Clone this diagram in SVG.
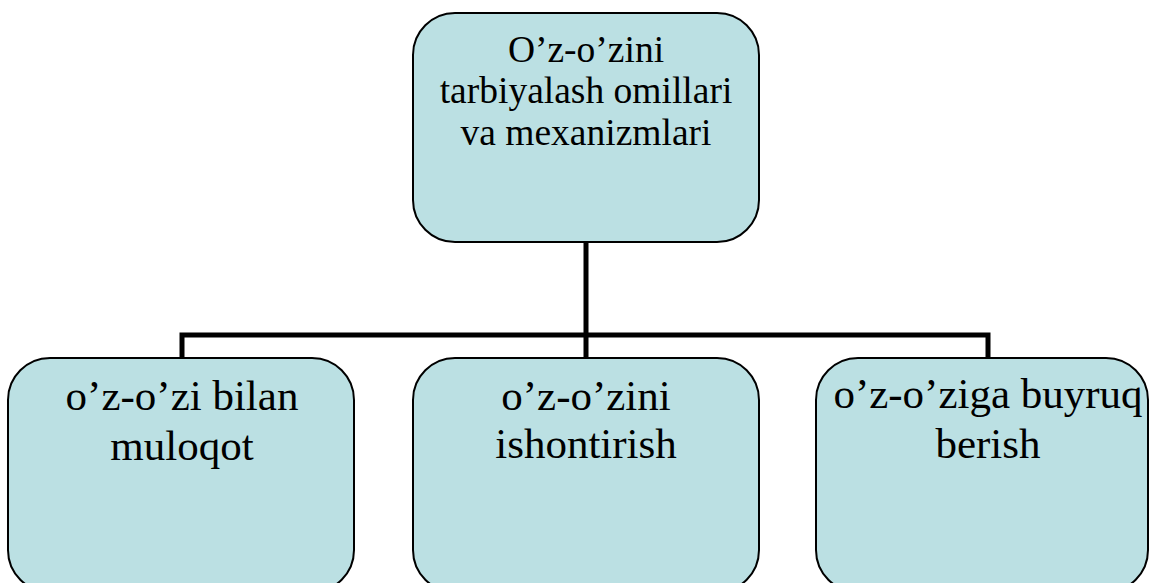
<svg xmlns="http://www.w3.org/2000/svg" width="1151" height="583" viewBox="0 0 1151 583">
<style>
.box{fill:#BBE0E3;stroke:#000;stroke-width:2}
.t{font-family:"Liberation Serif","Times New Roman",serif;fill:#000;text-anchor:middle}
.top{font-size:37.5px}
.bot{font-size:43px}
.conn{fill:none;stroke:#000;stroke-width:5}
</style>
<rect width="1151" height="583" fill="#fff"/>
<g id="connectors">
<path class="conn" d="M586,242 V335 M182,358 V335 H988 V358 M586,335 V358"/>
</g>
<g id="root">
<rect class="box" x="413" y="13" width="346" height="229" rx="42"/>
<text class="t top" x="586" y="62">O’z-o’zini</text>
<text class="t top" x="586" y="103">tarbiyalash omillari</text>
<text class="t top" x="586" y="145">va mexanizmlari</text>
</g>
<g id="n1">
<rect class="box" x="8" y="358" width="346" height="234" rx="42"/>
<text class="t bot" x="182" y="410">o’z-o’zi bilan</text>
<text class="t bot" x="182" y="460">muloqot</text>
</g>
<g id="n2">
<rect class="box" x="413" y="358" width="346" height="234" rx="42"/>
<text class="t bot" x="586" y="410">o’z-o’zini</text>
<text class="t bot" x="586" y="458">ishontirish</text>
</g>
<g id="n3">
<rect class="box" x="816" y="358" width="332" height="234" rx="42"/>
<text class="t bot" x="988" y="408">o’z-o’ziga buyruq</text>
<text class="t bot" x="988" y="458">berish</text>
</g>
</svg>
